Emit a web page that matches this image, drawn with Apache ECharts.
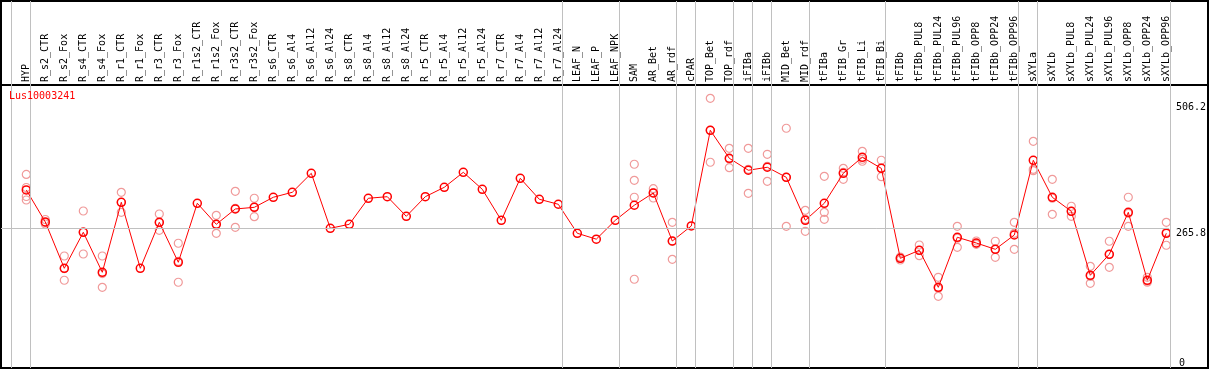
<!DOCTYPE html>
<html><head><meta charset="utf-8">
<script src="https://cdn.jsdelivr.net/npm/echarts@6/dist/echarts.min.js"></script>
<style>html,body{margin:0;padding:0;background:#fff}#c{width:1209px;height:370px}</style>
</head><body><div id="c"></div>
<script>
const geneId = 'Lus10003241';
const categories = ['HYP','R_s2_CTR','R_s2_Fox','R_s4_CTR','R_s4_Fox','R_r1_CTR','R_r1_Fox','R_r3_CTR','R_r3_Fox','R_r1s2_CTR','R_r1s2_Fox','R_r3s2_CTR','R_r3s2_Fox','R_s6_CTR','R_s6_Al4','R_s6_Al12','R_s6_Al24','R_s8_CTR','R_s8_Al4','R_s8_Al12','R_s8_Al24','R_r5_CTR','R_r5_Al4','R_r5_Al12','R_r5_Al24','R_r7_CTR','R_r7_Al4','R_r7_Al12','R_r7_Al24','LEAF_N','LEAF_P','LEAF_NPK','SAM','AR_Bet','AR_rdf','cPAR','TOP_Bet','TOP_rdf','iFIBa','iFIBb','MID_Bet','MID_rdf','tFIBa','tFIB_Gr','tFIB_Li','tFIB_Bi','tFIBb','tFIBb_PUL8','tFIBb_PUL24','tFIBb_PUL96','tFIBb_OPP8','tFIBb_OPP24','tFIBb_OPP96','sXYLa','sXYLb','sXYLb_PUL8','sXYLb_PUL24','sXYLb_PUL96','sXYLb_OPP8','sXYLb_OPP24','sXYLb_OPP96'];
const means = [338.7,277.8,189.7,258.2,182.1,315.3,189.7,277.2,201.1,313.4,273.4,302.5,305.7,324.8,334.3,370.4,265.8,273.4,322.9,325.9,288.6,325.9,343.8,372.3,340.0,281.0,360.9,321.0,311.5,256.3,245.1,281.0,309.6,333.0,241.6,270.2,452.2,399.0,376.2,381.9,362.8,281.0,313.4,370.4,400.9,379.9,208.7,223.9,153.5,248.7,237.8,225.8,253.0,395.2,324.8,298.1,176.4,216.3,296.2,166.9,256.3];
const replicates = [
 [368.2,343.4,326.3,319.6],[282.5,276.8,274.0],[213.1,189.1,166.9],[298.7,258.8,216.9],[213.1,179.6,153.5],
 [334.3,315.3,296.2],[],[293.0,276.4,262.0],[237.3,203.0,163.1],[],
 [290.5,273.4,256.3],[336.2,303.7,267.7],[322.9,306.3,287.9],[],[],
 [],[],[],[],[],
 [],[],[],[],[],
 [],[],[],[],[],
 [],[],[387.6,357.1,324.8,168.8],[341.1,333.0,323.4],[277.2,240.9,206.8],
 [],[513.1,452.2,391.4],[418.0,397.6,381.1],[418.0,378.0,332.4],[406.6,383.8,355.2],
 [456.1,362.8,269.6],[300.0,282.9,260.1],[364.7,296.2,282.9],[379.9,372.3,359.0],[412.3,397.1,393.3],
 [395.2,380.5,364.0],[211.2,208.7,205.5],[234.0,223.9,213.7],[172.6,151.6,136.4],[269.6,246.8,229.6],
 [241.6,236.5,235.3],[241.1,225.8,210.6],[277.2,256.3,225.8],[431.3,378.0,375.4],[359.0,322.9,292.4],
 [307.7,298.1,288.6],[193.5,174.5,161.1],[241.1,216.3,191.6],[324.8,294.3,269.6],[172.6,165.0,163.1],
 [277.2,258.2,233.5]
];
const groupEnds = [-1,0,28,31,34,35,37,38,39,41,45,52,53,60];
const yTickTop = [265.8, 506.2];
const yTickBottom = [0];
const refLineValue = 265.8;
const yMax = 538.4;

// layout
const frameL = 1, frameT = 1, frameW = 1207, frameH = 367;
const plotT = 85, plotH = 283, plotR = 1170.7;
const catL = 16.8, catW = 1159;
const band = catW / categories.length;
const fxMin = (frameL - catL) / band - 0.5;
const fxMax = fxMin + frameW / band;
const sepOffset = 0.232;

const MONO = 'DejaVu Sans Mono';

const repData = [];
replicates.forEach((arr, i) => arr.forEach(v => repData.push([i, v])));

const REP = '#f09a9a', MEAN = '#ff0000';

const chart = echarts.init(document.getElementById('c'), null, {renderer: 'canvas'});
chart.setOption({
  animation: false,
  backgroundColor: '#fff',
  title: {text: geneId, left: 9, top: 91, padding: 0,
    textStyle: {color: '#ff0000', fontSize: 10, fontWeight: 'normal', fontFamily: MONO}},
  grid: [
    {left: frameL, top: frameT, width: frameW, height: frameH, show: true, borderColor: '#000', borderWidth: 2, backgroundColor: 'transparent'},
    {left: frameL, top: frameT, width: frameW, height: plotT - frameT, show: true, borderColor: '#000', borderWidth: 2, backgroundColor: 'transparent'},
    {left: frameL, top: plotT, width: plotR - frameL, height: plotH},
    {left: catL, top: plotT, width: catW, height: plotH}
  ],
  xAxis: [
    {gridIndex: 0, type: 'value', min: fxMin, max: fxMax, show: false},
    {gridIndex: 1, type: 'value', min: 0, max: 1, show: false},
    {gridIndex: 2, type: 'value', min: 0, max: 1, show: false},
    {gridIndex: 3, type: 'category', data: categories, position: 'top', boundaryGap: true,
      axisLine: {show: false}, axisTick: {show: false}, splitLine: {show: false},
      axisLabel: {interval: 0, rotate: 90, margin: 3, fontSize: 10, fontFamily: MONO, color: '#000'}}
  ],
  yAxis: [
    {gridIndex: 0, type: 'value', min: 0, max: 1, show: false},
    {gridIndex: 1, type: 'value', min: 0, max: 1, show: false},
    {gridIndex: 2, type: 'value', min: 0, max: yMax, position: 'right',
      axisLine: {show: false}, axisTick: {show: false}, splitLine: {show: false},
      axisLabel: {customValues: yTickTop, verticalAlign: 'top', margin: 7, fontSize: 10, fontFamily: MONO, color: '#000',
        formatter: v => String(v)}},
    {gridIndex: 2, type: 'value', min: 0, max: yMax, position: 'right',
      axisLine: {show: false}, axisTick: {show: false}, splitLine: {show: false},
      axisLabel: {customValues: yTickBottom, verticalAlign: 'bottom', margin: 10, fontSize: 10, fontFamily: MONO, color: '#000',
        formatter: v => String(v)}},
    {gridIndex: 3, type: 'value', min: 0, max: yMax, show: false}
  ],
  series: [
    {type: 'line', xAxisIndex: 0, yAxisIndex: 0, data: [], silent: true,
      markLine: {silent: true, symbol: 'none', label: {show: false},
        lineStyle: {color: '#c0c0c0', width: 1, type: 'solid'},
        data: groupEnds.map(i => ({xAxis: i + sepOffset}))}},
    {type: 'line', xAxisIndex: 2, yAxisIndex: 2, data: [], silent: true,
      markLine: {silent: true, symbol: 'none', label: {show: false},
        lineStyle: {color: '#c0c0c0', width: 1, type: 'solid'},
        data: [{yAxis: refLineValue}]}},
    {type: 'scatter', xAxisIndex: 3, yAxisIndex: 4, data: repData, symbol: 'circle', symbolSize: 8, z: 3,
      itemStyle: {color: 'rgba(255,255,255,0)', borderColor: REP, borderWidth: 1.2, opacity: 1}},
    {type: 'line', xAxisIndex: 3, yAxisIndex: 4, data: means, symbol: 'circle', symbolSize: 8, showAllSymbol: true, z: 4,
      lineStyle: {color: MEAN, width: 1},
      itemStyle: {color: 'rgba(255,255,255,0)', borderColor: MEAN, borderWidth: 1.5}}
  ]
});
</script></body></html>
